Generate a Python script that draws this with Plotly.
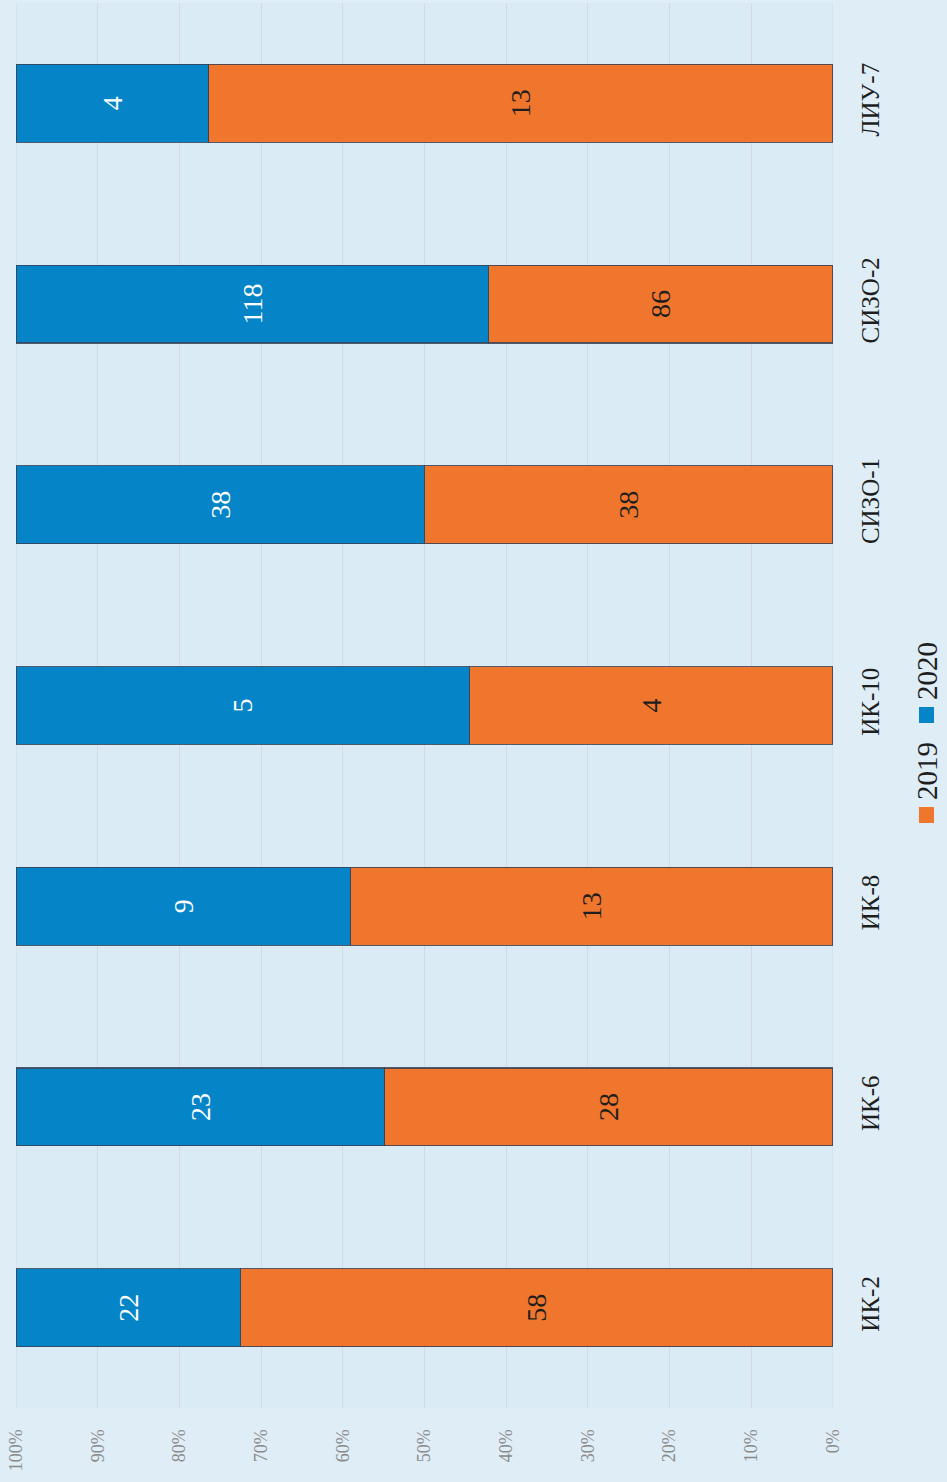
import plotly.graph_objects as go

categories = ["ИК-2", "ИК-6", "ИК-8", "ИК-10", "СИЗО-1", "СИЗО-2", "ЛИУ-7"]
values_2019 = [58, 28, 13, 4, 38, 86, 13]
values_2020 = [22, 23, 9, 5, 38, 118, 4]
series_names = ["2019", "2020"]
pct_ticks = [0, 10, 20, 30, 40, 50, 60, 70, 80, 90, 100]
pct_labels = ["0%", "10%", "20%", "30%", "40%", "50%", "60%", "70%", "80%", "90%", "100%"]

W, H = 947, 1482
ML, MR, MT, MB = 16, 114, 3, 74
PW = W - ML - MR
PH = H - MT - MB

def px_x(x):
    return (x - ML) / PW

def px_y(y):
    return (H - MB - y) / PH

SERIF = "Liberation Serif, Times New Roman, serif"
ORANGE = "#f0762d"
BLUE = "#0585c8"
EDGE = "rgba(55,65,85,0.85)"
GRID = "#d6d9dd"

fig = go.Figure()
fig.add_trace(go.Bar(
    y=categories, x=values_2019, orientation="h", name=series_names[0],
    marker=dict(color=ORANGE, line=dict(color=EDGE, width=1.2)),
    text=[str(v) for v in values_2019], textposition="inside",
    insidetextanchor="middle", textangle=-90, constraintext="none",
    textfont=dict(family=SERIF, size=28, color="#1e1e1e"),
    showlegend=False,
))
fig.add_trace(go.Bar(
    y=categories, x=values_2020, orientation="h", name=series_names[1],
    marker=dict(color=BLUE, line=dict(color=EDGE, width=1.2)),
    text=[str(v) for v in values_2020], textposition="inside",
    insidetextanchor="middle", textangle=-90, constraintext="none",
    textfont=dict(family=SERIF, size=28, color="#ffffff"),
    showlegend=False,
))

# edge gridlines (0% and 100%) that plotly omits at the range ends
for v in (pct_ticks[0], pct_ticks[-1]):
    fig.add_shape(type="line", xref="x", yref="paper", x0=v, x1=v, y0=0, y1=1,
                  line=dict(color=GRID, width=1), layer="below")

# legend drawn rotated (reads bottom-to-top)
leg_colors = [ORANGE, BLUE]
leg_text_y = [771, 671]
leg_sq_y = [815, 715]
for name, col, ty, sy in zip(series_names, leg_colors, leg_text_y, leg_sq_y):
    fig.add_annotation(
        x=px_x(927), y=px_y(ty), xref="paper", yref="paper",
        text=name, textangle=-90, showarrow=False,
        font=dict(family=SERIF, size=29, color="#1e1e1e"),
        xanchor="center", yanchor="middle",
    )
    fig.add_shape(
        type="rect", xref="paper", yref="paper",
        x0=px_x(919), x1=px_x(934), y0=px_y(sy + 8), y1=px_y(sy - 8),
        fillcolor=col, line=dict(color=col, width=0),
    )

fig.update_layout(
    width=W, height=H,
    margin=dict(l=ML, r=MR, t=MT, b=MB),
    barmode="stack", barnorm="percent", bargap=0.612,
    paper_bgcolor="#deedf6", plot_bgcolor="#dbebf5",
    showlegend=False,
    xaxis=dict(
        range=[100, 0], tickmode="array", tickvals=pct_ticks, ticktext=pct_labels,
        tickangle=-90, showgrid=True, gridcolor=GRID, gridwidth=1,
        zeroline=False, showline=False,
        ticks="outside", ticklen=13, tickcolor="rgba(0,0,0,0)",
        tickfont=dict(family=SERIF, size=18, color="#8a8a8a"),
    ),
    yaxis=dict(
        categoryorder="array", categoryarray=categories,
        range=[-0.5, 6.5], side="right", tickangle=-90,
        showgrid=False, zeroline=False, showline=False,
        ticks="outside", ticklen=15, tickcolor="rgba(0,0,0,0)",
        tickfont=dict(family=SERIF, size=25, color="#1e1e1e"),
    ),
)

fig.write_html("out.html", config={"displayModeBar": False},
               post_script="document.body.style.margin='0';document.body.style.overflow='hidden';")
